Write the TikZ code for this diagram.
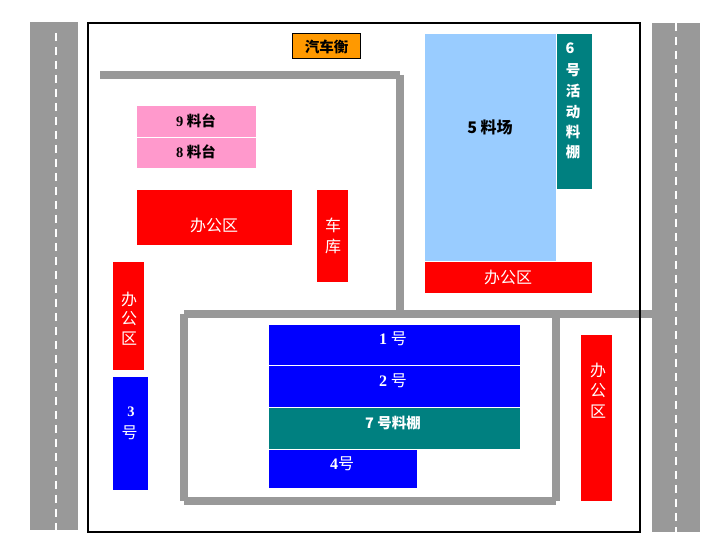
\documentclass[tikz,border=0pt]{standalone}
\usepackage{fontspec}
\setmainfont{Liberation Serif}
\newfontfamily\cjk{Noto Sans CJK SC}
\usetikzlibrary{positioning}
\tikzset{
  road/.style={fill=black!40},
  lane/.style={draw=white, line width=2.4pt, dash pattern=on 8pt off 6pt},
  yard/.style={draw=black!40, line width=8pt},
  blacktag/.style={font=\bfseries\cjk\fontsize{14.5}{14.5}\selectfont, text=black, inner sep=0pt},
  whitetag/.style={font=\cjk\fontsize{16}{16}\selectfont, text=white, inner sep=0pt},
  boldtag/.style={font=\bfseries\cjk\fontsize{14.5}{14.5}\selectfont, text=white, inner sep=0pt}
}
\definecolor{pinkbay}{HTML}{FF99CC}
\definecolor{skybay}{HTML}{99CCFF}
\definecolor{tealbay}{HTML}{008080}
\definecolor{gatebay}{HTML}{FF9900}
\begin{document}
\begin{tikzpicture}[x=1pt,y=-1pt]
\useasboundingbox (0,0) rectangle (726,556);
% roads outside the frame
\fill [road] (30,22) rectangle (78,530);
\draw [lane] (56,33) -- (56,530);
\fill [road] (652,23) rectangle (700,532);
\draw [lane] (676,23) -- (676,532);
% inner roads
\coordinate (topstart) at (100,75);
\coordinate (topend) at (400,75);
\coordinate (midend) at (652,314);
\coordinate (midcross) at (400,314);
\coordinate (innertl) at (184,314);
\coordinate (innerbl) at (184,501);
\coordinate (innerbr) at (556,501);
\coordinate (innertr) at (556,314);
\draw [yard] (topstart) -- (topend);
\draw [yard] (topend) -- (midcross);
\draw [yard] (innertl) -- (midend);
\draw [yard] (innertl) -- (innerbl);
\draw [yard] (innerbl) -- (innerbr);
\draw [yard] (innertr) -- (innerbr);
% frame
\draw [black, line width=2pt] (88,23) rectangle (640,532);
% gate
\fill [gatebay] (292.5,33.5) rectangle (360.5,58.5);
\draw [black] (292.5,33.5) rectangle (360.5,58.5);
\node (gate) at (326.5,47) [blacktag] {汽车衡};
% left side
\fill [pinkbay] (137,106) rectangle (256,137);
\node (bay9) at (196,121) [blacktag] {{\rmfamily 9} 料台};
\fill [pinkbay] (137,138) rectangle (256,168);
\node (bay8) at (196,152) [blacktag] {{\rmfamily 8} 料台};
\fill [red] (137,190) rectangle (292,245);
\node (officea) at (214,225) [whitetag] {办公区};
\fill [red] (317,190) rectangle (348,282);
\node (garage1) at (333,225) [whitetag] {车};
\node (garage2) at (333,246) [whitetag] {库};
\fill [red] (113,262) rectangle (144,370);
\node (officeb1) at (129,299) [whitetag] {办};
\node (officeb2) at (129,319) [whitetag] {公};
\node (officeb3) at (129,339) [whitetag] {区};
\fill [blue] (113,377) rectangle (148,490);
\node (bay3a) at (131,412) [boldtag] {\rmfamily 3};
\node (bay3b) at (129.5,433) [whitetag] {号};
% yard 5 and 6
\fill [skybay] (425,34) rectangle (556,261);
\node (bay5) at (490,127) [blacktag, font=\bfseries\cjk\fontsize{16}{16}\selectfont] {5 料场};
\fill [tealbay] (557,34) rectangle (592,189);
\node (bay6a) at (570,48) [boldtag] {6};
\node (bay6b) at (573,70) [boldtag] {号};
\node (bay6c) at (573,91) [boldtag] {活};
\node (bay6d) at (573,112) [boldtag] {动};
\node (bay6e) at (573,132) [boldtag] {料};
\node (bay6f) at (573,152) [boldtag] {棚};
\fill [red] (425,262) rectangle (592,293);
\node (officec) at (508,277) [whitetag] {办公区};
% inner yard
\fill [blue] (269,325) rectangle (520,365);
\node (bay1) at (393,339) [whitetag] {{\rmfamily\bfseries 1} 号};
\fill [blue] (269,366) rectangle (520,407);
\node (bay2) at (393,381) [whitetag] {{\rmfamily\bfseries 2} 号};
\fill [tealbay] (269,408) rectangle (520,449);
\node (bay7) at (393,423) [boldtag] {7 号料棚};
\fill [blue] (269,450) rectangle (417,488);
\node (bay4) at (342,464) [whitetag] {{\rmfamily\bfseries 4}号};
\fill [red] (581,335) rectangle (612,501);
\node (officed1) at (598,370) [whitetag] {办};
\node (officed2) at (598,391) [whitetag] {公};
\node (officed3) at (598,412) [whitetag] {区};
\end{tikzpicture}
\end{document}
